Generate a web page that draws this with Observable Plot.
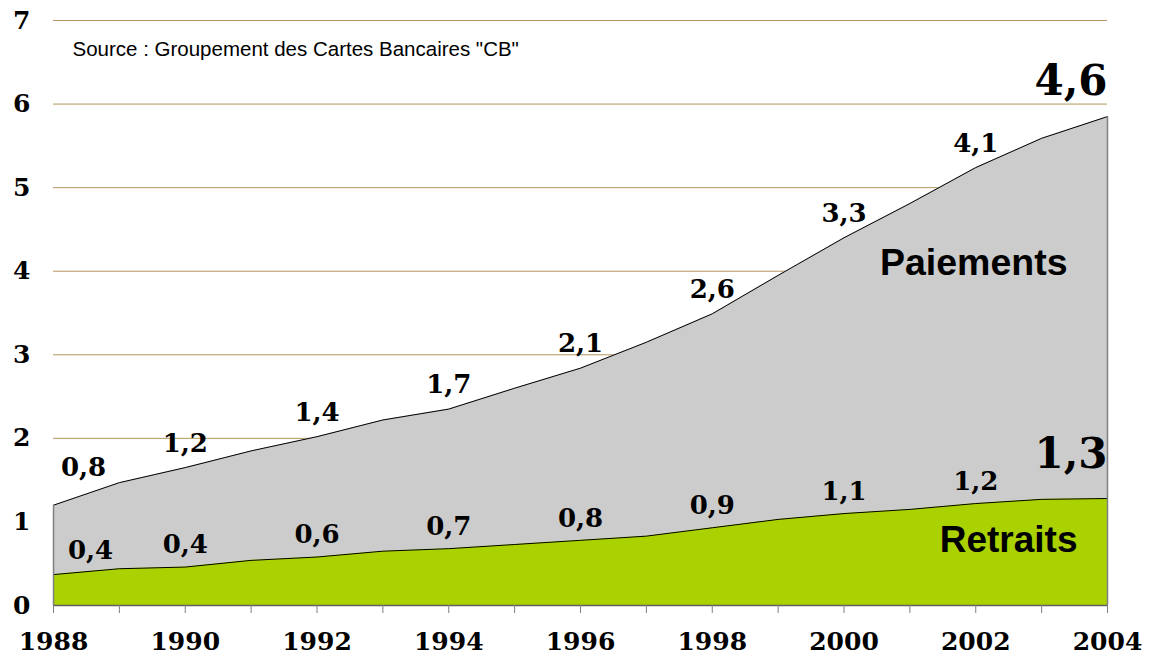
<!DOCTYPE html>
<html>
<head>
<meta charset="utf-8">
<script src="https://cdn.jsdelivr.net/npm/d3@7"></script>
<script src="https://cdn.jsdelivr.net/npm/@observablehq/plot@0.6"></script>
<style>
  html, body { margin: 0; padding: 0; background: #fff; }
  #chart svg { display: block; }
</style>
</head>
<body>
<div id="chart"></div>
<script>
// ---- Data ----
const years = [1988,1989,1990,1991,1992,1993,1994,1995,1996,1997,1998,1999,2000,2001,2002,2003,2004];
const retraits  = [0.37,0.44,0.46,0.54,0.58,0.65,0.68,0.73,0.78,0.83,0.93,1.03,1.10,1.15,1.22,1.27,1.28];
const paiements = [0.83,1.03,1.19,1.31,1.44,1.57,1.67,1.87,2.06,2.32,2.56,2.92,3.30,3.66,4.02,4.32,4.57];
const labelYears = [1988,1990,1992,1994,1996,1998,2000,2002,2004];
const paiementLabels = [0.8,1.2,1.4,1.7,2.1,2.6,3.3,4.1,4.6];
const retraitLabels  = [0.4,0.4,0.6,0.7,0.8,0.9,1.1,1.2,1.3];
const yTicks = [0,1,2,3,4,5,6,7];
const xTickLabels = [1988,1990,1992,1994,1996,1998,2000,2002,2004];
const seriesNames = ["Paiements","Retraits"];
const sourceText = 'Source : Groupement des Cartes Bancaires "CB"';

// ---- Derived tables ----
const rows = years.map((y, i) => ({
  year: y,
  r: retraits[i],
  total: +(retraits[i] + paiements[i]).toFixed(2)
}));
const totalAt = y => rows.find(d => d.year === y).total;
const retAt = y => rows.find(d => d.year === y).r;
const fmt = v => v.toFixed(1).replace(".", ",");
const pLab = labelYears.map((y, i) => ({year: y, y: totalAt(y), text: fmt(paiementLabels[i])}));
const rLab = labelYears.map((y, i) => ({year: y, y: retAt(y), text: fmt(retraitLabels[i])}));
const edges = [rows[0], rows[rows.length - 1]];

const serif = "Georgia, 'DejaVu Serif', serif";
const sans = "Arial, 'Liberation Sans', sans-serif";
const lastYear = years[years.length - 1];
const firstYear = years[0];
const lblStyle = {fontSize: 26, fontWeight: "bold", fontFamily: serif, fill: "#000"};

const chart = Plot.plot({
  width: 1151,
  height: 659,
  marginLeft: 53,
  marginRight: 44,
  marginTop: 20,
  marginBottom: 54,
  style: {background: "#fff", fontFamily: serif, color: "#000"},
  x: {domain: [firstYear, lastYear]},
  y: {domain: [0, 7]},
  marks: [
    // gridlines
    Plot.ruleY(yTicks.filter(t => t > 0), {stroke: "#b4955e", strokeWidth: 1}),
    // areas
    Plot.areaY(rows, {x: "year", y1: "r", y2: "total", fill: "#cccccc"}),
    Plot.areaY(rows, {x: "year", y1: 0, y2: "r", fill: "#aad200"}),
    // boundary lines
    Plot.lineY(rows, {x: "year", y: "total", stroke: "#000", strokeWidth: 1}),
    Plot.lineY(rows, {x: "year", y: "r", stroke: "#000", strokeWidth: 1}),
    // area side edges
    Plot.ruleX(edges, {x: "year", y1: 0, y2: "total", stroke: "#808080", strokeWidth: 1.5}),
    // baseline
    Plot.ruleY([0], {stroke: "#606060", strokeWidth: 1.5}),
    // x ticks (every year)
    Plot.axisX({ticks: years, tickSize: 8, stroke: "#808080", tickFormat: () => "", label: null}),
    // x tick labels
    Plot.axisX({ticks: xTickLabels, tickSize: 0, tickPadding: 27, tickFormat: d => String(d),
      fontSize: 25, fontWeight: "bold", fontFamily: serif, fill: "#000", label: null}),
    // y tick labels
    Plot.axisY({ticks: yTicks, tickSize: 0, tickPadding: 23, tickFormat: d => String(d),
      fontSize: 25, fontWeight: "bold", fontFamily: serif, fill: "#000", label: null}),
    // value labels - paiements
    Plot.text(pLab.filter(d => d.year === firstYear), {x: "year", y: "y", text: "text", dx: 30, dy: -38, ...lblStyle}),
    Plot.text(pLab.filter(d => d.year !== firstYear && d.year !== lastYear), {x: "year", y: "y", text: "text", dy: -24, ...lblStyle}),
    Plot.text(pLab.filter(d => d.year === lastYear), {x: "year", y: "y", text: "text", dy: -35, textAnchor: "end",
      ...lblStyle, fontSize: 42}),
    // value labels - retraits
    Plot.text(rLab.filter(d => d.year === firstYear), {x: "year", y: "y", text: "text", dx: 37, dy: -24, ...lblStyle}),
    Plot.text(rLab.filter(d => d.year !== firstYear && d.year !== lastYear), {x: "year", y: "y", text: "text", dy: -22, ...lblStyle}),
    Plot.text(rLab.filter(d => d.year === lastYear), {x: "year", y: "y", text: "text", dy: -44, textAnchor: "end",
      ...lblStyle, fontSize: 42}),
    // series names
    Plot.text([seriesNames[0]], {frameAnchor: "top-right", text: d => d, dx: -40, dy: 242, textAnchor: "end", lineAnchor: "middle",
      fontSize: 37.5, fontWeight: "bold", fontFamily: sans, fill: "#000"}),
    Plot.text([seriesNames[1]], {frameAnchor: "bottom-right", text: d => d, dx: -30, dy: -65, textAnchor: "end", lineAnchor: "middle",
      fontSize: 37, fontWeight: "bold", fontFamily: sans, fill: "#000"}),
    // source
    Plot.text([sourceText], {frameAnchor: "top-left", text: d => d, dx: 19, dy: 29, textAnchor: "start", lineAnchor: "middle",
      fontSize: 20.5, fontFamily: sans, fill: "#000"})
  ]
});
document.getElementById("chart").appendChild(chart);
</script>
</body>
</html>
